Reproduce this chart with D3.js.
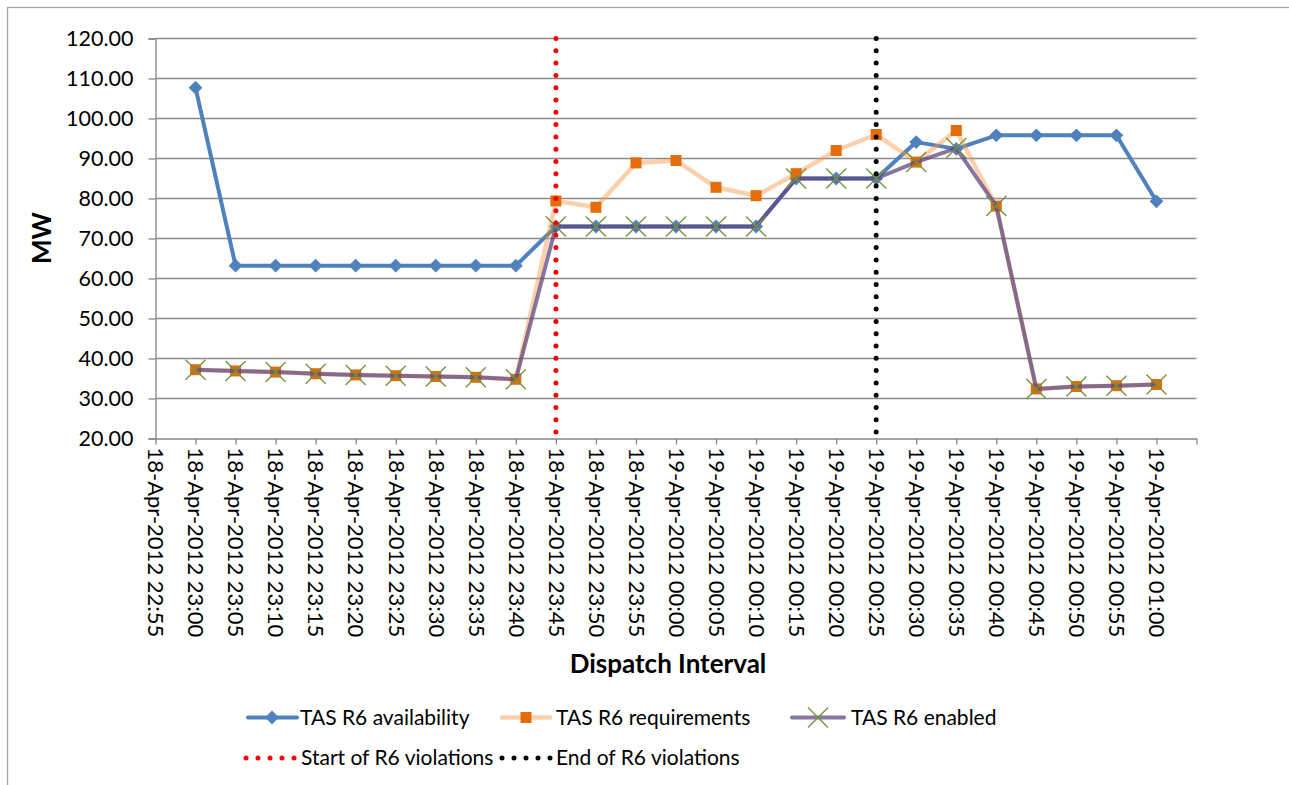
<!DOCTYPE html>
<html>
<head>
<meta charset="utf-8">
<script src="https://cdnjs.cloudflare.com/ajax/libs/d3/7.8.5/d3.min.js"></script>
<style>
  body { margin: 0; background: #fff; }
  text { font-family: "Lato", "Liberation Sans", sans-serif; fill: #000; }
</style>
</head>
<body>
<div id="chart"></div>
<script>
// dispatch intervals (x categories)
var intervals = [
  "18-Apr-2012 22:55", "18-Apr-2012 23:00", "18-Apr-2012 23:05", "18-Apr-2012 23:10",
  "18-Apr-2012 23:15", "18-Apr-2012 23:20", "18-Apr-2012 23:25", "18-Apr-2012 23:30",
  "18-Apr-2012 23:35", "18-Apr-2012 23:40", "18-Apr-2012 23:45", "18-Apr-2012 23:50",
  "18-Apr-2012 23:55", "19-Apr-2012 00:00", "19-Apr-2012 00:05", "19-Apr-2012 00:10",
  "19-Apr-2012 00:15", "19-Apr-2012 00:20", "19-Apr-2012 00:25", "19-Apr-2012 00:30",
  "19-Apr-2012 00:35", "19-Apr-2012 00:40", "19-Apr-2012 00:45", "19-Apr-2012 00:50",
  "19-Apr-2012 00:55", "19-Apr-2012 01:00"
];

// MW values (first interval has no data)
var availability = [null, 107.7, 63.2, 63.2, 63.2, 63.2, 63.2, 63.2, 63.2, 63.2,
  73.0, 73.0, 73.0, 73.0, 73.0, 73.0, 85.0, 85.0, 85.0, 94.1, 92.4, 95.8, 95.8, 95.8, 95.8, 79.3];
var requirements = [null, 37.2, 36.9, 36.6, 36.2, 35.9, 35.7, 35.5, 35.3, 34.8,
  79.4, 77.8, 88.9, 89.5, 82.8, 80.7, 86.2, 92.0, 96.0, 89.1, 97.0, 78.1, 32.4, 33.0, 33.2, 33.5];
var enabled = [null, 37.2, 36.9, 36.6, 36.2, 35.9, 35.7, 35.5, 35.3, 34.8,
  73.0, 73.0, 73.0, 73.0, 73.0, 73.0, 85.0, 85.0, 85.0, 89.1, 92.6, 78.1, 32.4, 33.0, 33.2, 33.5];

var yTicks = [20, 30, 40, 50, 60, 70, 80, 90, 100, 110, 120];
var violationStart = "18-Apr-2012 23:45";
var violationEnd = "19-Apr-2012 00:25";

var width = 1289, height = 785;

var svg = d3.select("#chart").append("svg")
    .attr("width", width)
    .attr("height", height);

// chart border
svg.append("rect")
    .attr("x", 7.5).attr("y", 7.5)
    .attr("width", width).attr("height", height)
    .attr("fill", "none")
    .attr("stroke", "#a6a6a6")
    .attr("stroke-width", 1.3);

var x = d3.scaleLinear().domain([0, intervals.length]).range([155.5, 1196.5]);
var y = d3.scaleLinear().domain([20, 120]).range([438.5, 38.5]);

// gridlines
svg.append("g")
    .selectAll("line")
    .data(yTicks.slice(1))
    .enter().append("line")
    .attr("x1", x(0)).attr("x2", x(intervals.length))
    .attr("y1", function(d) { return y(d); })
    .attr("y2", function(d) { return y(d); })
    .attr("stroke", "#8c8c8c")
    .attr("stroke-width", 1.3);

// y axis
var yAxis = d3.axisLeft(y)
    .tickValues(yTicks)
    .tickSize(7)
    .tickPadding(15)
    .tickFormat(d3.format(".2f"));

var gy = svg.append("g")
    .attr("transform", "translate(" + x(0) + ",0)")
    .call(yAxis);
gy.select(".domain").attr("stroke", "#868686").attr("stroke-width", 1.3);
gy.selectAll(".tick line").attr("stroke", "#868686").attr("stroke-width", 1.3);
gy.selectAll(".tick text").style("font-size", "21.5px");

// x axis
var xAxis = d3.axisBottom(x)
    .tickValues(d3.range(intervals.length + 1))
    .tickSize(6)
    .tickSizeOuter(0)
    .tickFormat(function(i) { return intervals[i] || ""; });

var gx = svg.append("g")
    .attr("transform", "translate(0," + y(20) + ")")
    .call(xAxis);
gx.select(".domain").attr("stroke", "#868686").attr("stroke-width", 1.3);
gx.selectAll(".tick line").attr("stroke", "#868686").attr("stroke-width", 1.3);
gx.selectAll(".tick text")
    .style("font-size", "22px")
    .attr("text-anchor", "start")
    .attr("transform", "translate(0,9) rotate(90)")
    .attr("x", 0).attr("y", 0)
    .attr("dy", "0.35em");

// axis titles
svg.append("text")
    .attr("x", 668).attr("y", 673)
    .attr("text-anchor", "middle")
    .style("font-size", "26px").style("font-weight", "bold")
    .text("Dispatch Interval");

svg.append("text")
    .attr("transform", "translate(51,238) rotate(-90)")
    .attr("text-anchor", "middle")
    .style("font-size", "26px").style("font-weight", "bold")
    .text("MW");

var line = d3.line()
    .defined(function(d) { return d != null; })
    .x(function(d, i) { return x(i); })
    .y(function(d) { return y(d); });

function points(arr) {
  return arr.map(function(v, i) { return { i: i, v: v }; })
    .filter(function(d) { return d.v != null; });
}

// availability
svg.append("path")
    .attr("d", line(availability))
    .attr("fill", "none")
    .attr("stroke", "#4f81bd")
    .attr("stroke-width", 4)
    .attr("stroke-linejoin", "round");
svg.append("g").selectAll("rect")
    .data(points(availability))
    .enter().append("rect")
    .attr("x", -6.5).attr("y", -6.5)
    .attr("width", 13).attr("height", 13)
    .attr("transform", function(d) { return "translate(" + x(d.i) + "," + y(d.v) + ") scale(0.75) rotate(45)"; })
    .attr("fill", "#4f81bd");

// requirements
svg.append("path")
    .attr("d", line(requirements))
    .attr("fill", "none")
    .attr("stroke", "#f79646")
    .attr("stroke-opacity", 0.45)
    .attr("stroke-width", 4.5)
    .attr("stroke-linejoin", "round");
svg.append("g").selectAll("rect")
    .data(points(requirements))
    .enter().append("rect")
    .attr("x", function(d) { return x(d.i) - 5.5; })
    .attr("y", function(d) { return y(d.v) - 5.5; })
    .attr("width", 11).attr("height", 11)
    .attr("fill", "#e46c0a");

// enabled
svg.append("path")
    .attr("d", line(enabled))
    .attr("fill", "none")
    .attr("stroke", "#5f4882")
    .attr("stroke-opacity", 0.75)
    .attr("stroke-width", 4)
    .attr("stroke-linejoin", "round");
svg.append("g").selectAll("path")
    .data(points(enabled))
    .enter().append("path")
    .attr("d", function(d) {
      var cx = x(d.i), cy = y(d.v), s = 10;
      return "M" + (cx - s) + "," + (cy - s) + "L" + (cx + s) + "," + (cy + s) +
             "M" + (cx - s) + "," + (cy + s) + "L" + (cx + s) + "," + (cy - s);
    })
    .attr("stroke", "#77933c")
    .attr("stroke-width", 1.4)
    .attr("fill", "none");

// violation markers
function vline(label, color) {
  var xi = x(intervals.indexOf(label));
  svg.append("line")
      .attr("x1", xi).attr("x2", xi)
      .attr("y1", y(120)).attr("y2", y(20))
      .attr("stroke", color)
      .attr("stroke-width", 5)
      .attr("stroke-linecap", "round")
      .attr("stroke-dasharray", "0 12.3");
}
vline(violationStart, "#ff0000");
vline(violationEnd, "#000000");

// legend
var legend = svg.append("g");
var row1 = 717.5, row2 = 758;

function legendLine(x1, x2, yy, color, opacity, w) {
  legend.append("line")
      .attr("x1", x1).attr("x2", x2).attr("y1", yy).attr("y2", yy)
      .attr("stroke", color).attr("stroke-opacity", opacity)
      .attr("stroke-width", w).attr("stroke-linecap", "round");
}
function legendText(xx, yy, label) {
  legend.append("text")
      .attr("x", xx).attr("y", yy).attr("dy", "0.35em")
      .style("font-size", "21px")
      .text(label);
}

legendLine(248, 297, row1, "#4f81bd", 1, 4);
legend.append("rect")
    .attr("x", -6.5).attr("y", -6.5).attr("width", 13).attr("height", 13)
    .attr("transform", "translate(272," + row1 + ") scale(0.75) rotate(45)")
    .attr("fill", "#4f81bd");
legendText(300, row1, "TAS R6 availability");

legendLine(502, 550, row1, "#f79646", 0.45, 4.5);
legend.append("rect")
    .attr("x", 520.5).attr("y", row1 - 5.5).attr("width", 11).attr("height", 11)
    .attr("fill", "#e46c0a");
legendText(556, row1, "TAS R6 requirements");

legendLine(792, 844, row1, "#5f4882", 0.75, 4);
legend.append("path")
    .attr("d", "M808," + (row1 - 10) + "L828," + (row1 + 10) + "M808," + (row1 + 10) + "L828," + (row1 - 10))
    .attr("stroke", "#77933c").attr("stroke-width", 1.4);
legendText(851, row1, "TAS R6 enabled");

function legendDots(x1, yy, color) {
  legend.append("line")
      .attr("x1", x1).attr("x2", x1 + 49.5).attr("y1", yy).attr("y2", yy)
      .attr("stroke", color).attr("stroke-width", 5)
      .attr("stroke-linecap", "round").attr("stroke-dasharray", "0 12");
}
legendDots(246, row2, "#ff0000");
legendText(301, row2, "Start of R6 violations");
legendDots(502, row2, "#000000");
legendText(556, row2, "End of R6 violations");
</script>
</body>
</html>
